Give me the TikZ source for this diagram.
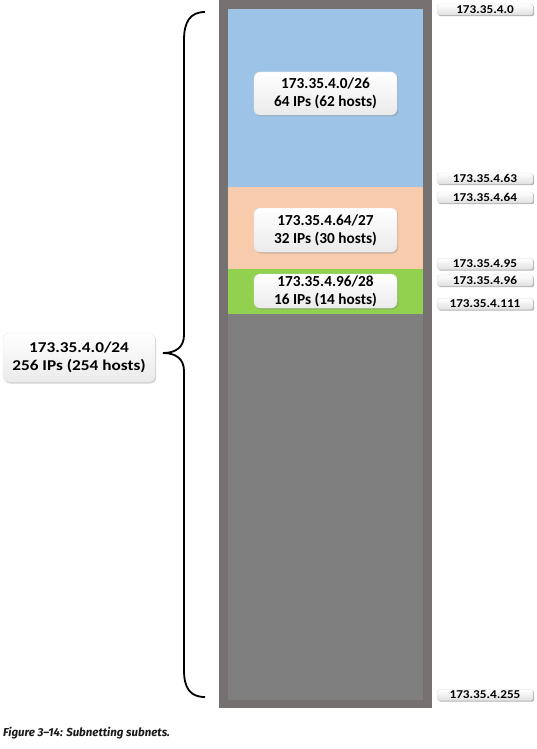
\documentclass[tikz,border=0pt]{standalone}
\usepackage{fontspec}
\setmainfont{Carlito}
\newfontfamily\labfont{Carlito}
\newfontfamily\widefont[FakeStretch=1.15]{Carlito}
\newfontfamily\smallfont[FakeStretch=1.1]{Carlito}
\newfontfamily\capfont{Fira Sans}
\usetikzlibrary{shadows}
\definecolor{framegray}{HTML}{767171}
\definecolor{innergray}{HTML}{7F7F7F}
\definecolor{subblue}{HTML}{9DC3E6}
\definecolor{subpeach}{HTML}{F8CBAD}
\definecolor{subgreen}{HTML}{92D050}
\tikzset{
  lbox/.style={rounded corners=6pt, top color=white, bottom color=black!8,
    draw=black!10, line width=0.3pt, inner sep=0pt, align=center,
    drop shadow={shadow xshift=1.2pt, shadow yshift=-1.5pt, opacity=0.35},
    font=\labfont\bfseries\fontsize{15.3}{18}\selectfont},
  addr/.style={rounded corners=2.5pt, top color=white, bottom color=black!12,
    draw=black!15, line width=0.3pt, inner sep=0pt,
    minimum width=96pt, minimum height=11pt,
    drop shadow={shadow xshift=1.2pt, shadow yshift=-1.2pt, opacity=0.6},
    font=\smallfont\bfseries\fontsize{12}{12}\selectfont},
  brace/.style={line width=1.8pt, black}
}
\begin{document}
\begin{tikzpicture}[x=1pt,y=-1pt]
\useasboundingbox (0,0) rectangle (537,749);
% frame and subnets
\fill[framegray] (219,0) rectangle (432,708);
\fill[innergray] (228,9) rectangle (423,700);
\fill[subblue] (228,9) rectangle (423,187);
\fill[subpeach] (228,187) rectangle (423,269);
\fill[subgreen] (228,269) rectangle (423,314);
% subnet labels
\node[lbox, minimum width=143pt, minimum height=43pt] (s26) at (325.5,93.5) {173.35.4.0/26\\64 IPs (62 hosts)};
\node[lbox, minimum width=143pt, minimum height=44pt] (s27) at (325.5,230) {173.35.4.64/27\\32 IPs (30 hosts)};
\node[lbox, minimum width=143pt, minimum height=34pt] (s28) at (325.5,291) {173.35.4.96/28\\16 IPs (14 hosts)};
\node[lbox, minimum width=152pt, minimum height=49pt, font=\widefont\bfseries\fontsize{15}{18}\selectfont] (s24) at (79,357.5) {173.35.4.0/24\\256 IPs (254 hosts)};
% address labels
\node[addr] (a0) at (485,9.5) {173.35.4.0};
\node[addr] (a63) at (485,178.5) {173.35.4.63};
\node[addr] (a64) at (485,197.5) {173.35.4.64};
\node[addr] (a95) at (485,264) {173.35.4.95};
\node[addr] (a96) at (485,280.5) {173.35.4.96};
\node[addr] (a111) at (485,304) {173.35.4.111};
\node[addr] (a255) at (485,695) {173.35.4.255};
% brace
\coordinate (btop) at (205,12);
\coordinate (btip) at (163,353);
\coordinate (bbot) at (205,697);
\draw[brace] (btop) .. controls (190,12) and (184,22) .. (184,40) -- (184,335)
  .. controls (184,347) and (176,353) .. (btip)
  .. controls (176,353) and (184,359) .. (184,371) -- (184,670)
  .. controls (184,688) and (190,697) .. (bbot);
% caption
\node[anchor=west, inner sep=0pt, font=\capfont\bfseries\itshape\fontsize{11.5}{13}\selectfont, text=black!90] (cap) at (3,733) {Figure 3–14: Subnetting subnets.};
\end{tikzpicture}
\end{document}
